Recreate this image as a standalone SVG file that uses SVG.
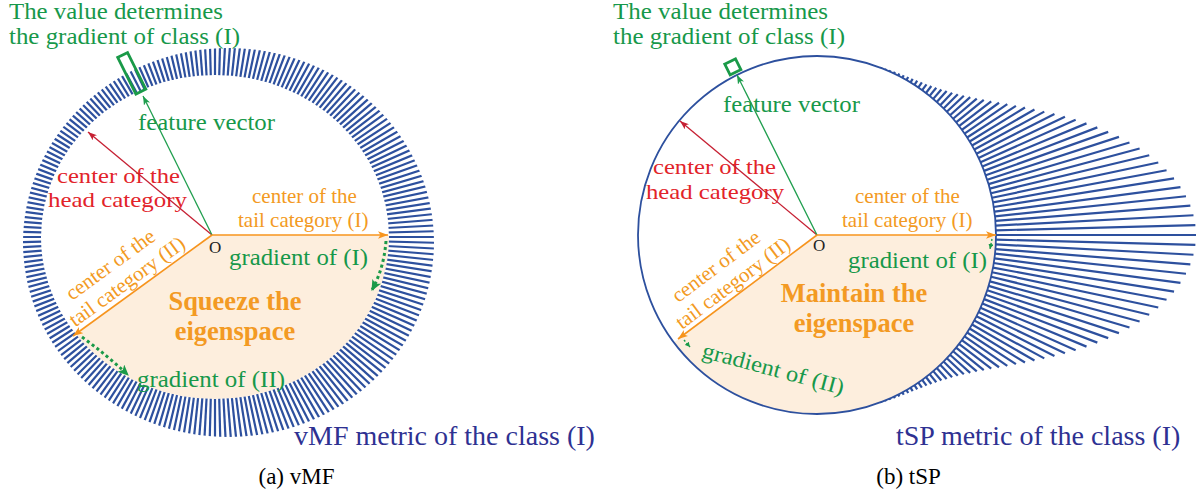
<svg xmlns="http://www.w3.org/2000/svg" width="1197" height="497" viewBox="0 0 1197 497">
<style>
text{font-family:"Liberation Serif","Times New Roman",serif}
.g{fill:#17984a;font-size:22.5px}
.r{fill:#e2232a;font-size:22px}
.o{fill:#f39a23;font-size:21px}
.b{fill:#f39a23;font-size:26.5px;font-weight:bold;text-anchor:middle}
.m{fill:#2e3192;font-size:28px}
.c{fill:#000;font-size:23px;text-anchor:middle}
.ol{fill:#222;font-size:17px}
.tk{stroke:#2d509e;stroke-width:2.2}
.ln{fill:none;stroke-width:1.3}
.lr{stroke:#c62033}
.lg{stroke:#1f9e4e}
.lo{stroke:#f7941d;stroke-width:1.6}
.dot{fill:none;stroke:#1a9a48;stroke-width:3;stroke-dasharray:3 3}
.dots{fill:none;stroke:#1a9a48;stroke-width:1.4;stroke-dasharray:2 2}
.peach{fill:#fdeedd}
</style>
<defs>
<marker id="aR" markerUnits="userSpaceOnUse" markerWidth="9" markerHeight="7" refX="8" refY="3" orient="auto" viewBox="0 0 8 6"><path d="M0,0 L8,3 L0,6 L2,3Z" fill="#c62033"/></marker>
<marker id="aG" markerUnits="userSpaceOnUse" markerWidth="9" markerHeight="7" refX="8" refY="3" orient="auto" viewBox="0 0 8 6"><path d="M0,0 L8,3 L0,6 L2,3Z" fill="#1f9e4e"/></marker>
<marker id="aO" markerUnits="userSpaceOnUse" markerWidth="10" markerHeight="8" refX="8" refY="3" orient="auto" viewBox="0 0 8 6"><path d="M0,0 L8,3 L0,6 L2,3Z" fill="#f7941d"/></marker>
<marker id="aD" markerUnits="userSpaceOnUse" markerWidth="11" markerHeight="10" refX="9" refY="4.5" orient="auto" viewBox="0 0 10 9"><path d="M0,0 L10,4.5 L0,9 L2.5,4.5Z" fill="#1a9a48"/></marker>
<marker id="aDs" markerUnits="userSpaceOnUse" markerWidth="5" markerHeight="5" refX="4" refY="2" orient="auto" viewBox="0 0 4 4"><path d="M0,0 L4,2 L0,4Z" fill="#1a9a48"/></marker>
<clipPath id="ringL"><path clip-rule="evenodd" d="M23,242.5 a205.5,194.5 0 1,0 411,0 a205.5,194.5 0 1,0 -411,0 Z M41,237 a174,162 0 1,0 348,0 a174,162 0 1,0 -348,0 Z"/></clipPath>
<clipPath id="inL"><ellipse cx="215" cy="237" rx="174" ry="162"/></clipPath>
<clipPath id="inR"><circle cx="817" cy="235" r="179"/></clipPath>
<line id="tk" x1="100" y1="0" x2="280" y2="0" class="tk"/>
<g id="tk15">
<use href="#tk"/><use href="#tk" transform="rotate(1.5)"/><use href="#tk" transform="rotate(3)"/><use href="#tk" transform="rotate(4.5)"/><use href="#tk" transform="rotate(6)"/><use href="#tk" transform="rotate(7.5)"/><use href="#tk" transform="rotate(9)"/><use href="#tk" transform="rotate(10.5)"/><use href="#tk" transform="rotate(12)"/><use href="#tk" transform="rotate(13.5)"/><use href="#tk" transform="rotate(15)"/><use href="#tk" transform="rotate(16.5)"/><use href="#tk" transform="rotate(18)"/><use href="#tk" transform="rotate(19.5)"/><use href="#tk" transform="rotate(21)"/>
</g>
<line id="u" x1="0" y1="0" x2="1" y2="0" class="tk"/>
<g id="halfR">
<use href="#u" transform="rotate(0)translate(179)scale(200,1)"/>
<use href="#u" transform="rotate(1.5)translate(179)scale(199.5,1)"/>
<use href="#u" transform="rotate(3)translate(179)scale(198,1)"/>
<use href="#u" transform="rotate(4.5)translate(179)scale(195.5,1)"/>
<use href="#u" transform="rotate(6)translate(179)scale(192,1)"/>
<use href="#u" transform="rotate(7.5)translate(179)scale(187.6,1)"/>
<use href="#u" transform="rotate(9)translate(179)scale(182.5,1)"/>
<use href="#u" transform="rotate(10.5)translate(179)scale(176.5,1)"/>
<use href="#u" transform="rotate(12)translate(179)scale(169.9,1)"/>
<use href="#u" transform="rotate(13.5)translate(179)scale(162.7,1)"/>
<use href="#u" transform="rotate(15)translate(179)scale(155,1)"/>
<use href="#u" transform="rotate(16.5)translate(179)scale(146.9,1)"/>
<use href="#u" transform="rotate(18)translate(179)scale(138.5,1)"/>
<use href="#u" transform="rotate(19.5)translate(179)scale(129.9,1)"/>
<use href="#u" transform="rotate(21)translate(179)scale(121.3,1)"/>
<use href="#u" transform="rotate(22.5)translate(179)scale(112.7,1)"/>
<use href="#u" transform="rotate(24)translate(179)scale(104.1,1)"/>
<use href="#u" transform="rotate(25.5)translate(179)scale(95.7,1)"/>
<use href="#u" transform="rotate(27)translate(179)scale(87.5,1)"/>
<use href="#u" transform="rotate(28.5)translate(179)scale(79.6,1)"/>
<use href="#u" transform="rotate(30)translate(179)scale(72.1,1)"/>
<use href="#u" transform="rotate(31.5)translate(179)scale(64.9,1)"/>
<use href="#u" transform="rotate(33)translate(179)scale(58.2,1)"/>
<use href="#u" transform="rotate(34.5)translate(179)scale(51.9,1)"/>
<use href="#u" transform="rotate(36)translate(179)scale(46,1)"/>
<use href="#u" transform="rotate(37.5)translate(179)scale(40.6,1)"/>
<use href="#u" transform="rotate(39)translate(179)scale(35.6,1)"/>
<use href="#u" transform="rotate(40.5)translate(179)scale(31.1,1)"/>
<use href="#u" transform="rotate(42)translate(179)scale(27.1,1)"/>
<use href="#u" transform="rotate(43.5)translate(179)scale(23.4,1)"/>
<use href="#u" transform="rotate(45)translate(179)scale(20.1,1)"/>
<use href="#u" transform="rotate(46.5)translate(179)scale(17.2,1)"/>
<use href="#u" transform="rotate(48)translate(179)scale(14.7,1)"/>
<use href="#u" transform="rotate(49.5)translate(179)scale(12.4,1)"/>
<use href="#u" transform="rotate(51)translate(179)scale(10.5,1)"/>
<use href="#u" transform="rotate(52.5)translate(179)scale(8.8,1)"/>
<use href="#u" transform="rotate(54)translate(179)scale(7.3,1)"/>
<use href="#u" transform="rotate(55.5)translate(179)scale(6.1,1)"/>
<use href="#u" transform="rotate(57)translate(179)scale(5,1)"/>
<use href="#u" transform="rotate(58.5)translate(179)scale(4.1,1)"/>
<use href="#u" transform="rotate(60)translate(179)scale(3.4,1)"/>
<use href="#u" transform="rotate(61.5)translate(179)scale(2.7,1)"/>
<use href="#u" transform="rotate(63)translate(179)scale(2.2,1)"/>
<use href="#u" transform="rotate(64.5)translate(179)scale(1.8,1)"/>
<use href="#u" transform="rotate(66)translate(179)scale(1.4,1)"/>
<use href="#u" transform="rotate(67.5)translate(179)scale(1.1,1)"/>
<use href="#u" transform="rotate(69)translate(179)scale(0.9,1)"/>
</g>
</defs>

<g id="vmf-panel">
<g id="vmf-eigenspace"><polygon class="peach" points="212,235 450,235 450,470 -111,470" clip-path="url(#inL)"/></g>
<g id="vmf-ring" clip-path="url(#ringL)"><g transform="translate(215,237)">
<use href="#tk15"/><use href="#tk15" transform="rotate(22.5)"/><use href="#tk15" transform="rotate(45)"/><use href="#tk15" transform="rotate(67.5)"/><use href="#tk15" transform="rotate(90)"/><use href="#tk15" transform="rotate(112.5)"/><use href="#tk15" transform="rotate(135)"/><use href="#tk15" transform="rotate(157.5)"/><use href="#tk15" transform="rotate(180)"/><use href="#tk15" transform="rotate(202.5)"/><use href="#tk15" transform="rotate(225)"/><use href="#tk15" transform="rotate(247.5)"/><use href="#tk15" transform="rotate(270)"/><use href="#tk15" transform="rotate(292.5)"/><use href="#tk15" transform="rotate(315)"/><use href="#tk15" transform="rotate(337.5)"/>
</g></g>
<g id="vmf-marker"><rect x="160" y="-5.5" width="41" height="11" transform="translate(212,235) rotate(-116.4)" fill="none" stroke="#1a9a48" stroke-width="2.8"/></g>
<g id="vmf-labels">
<text class="g" x="9" y="18.5" textLength="214" lengthAdjust="spacingAndGlyphs">The value determines</text>
<text class="g" x="9" y="43.5" textLength="231" lengthAdjust="spacingAndGlyphs">the gradient of class (I)</text>
<text class="g" x="138" y="130" textLength="137" lengthAdjust="spacingAndGlyphs">feature vector</text>
<text class="r" x="57" y="182.5" textLength="123" lengthAdjust="spacingAndGlyphs">center of the</text>
<text class="r" x="48" y="207" textLength="139" lengthAdjust="spacingAndGlyphs">head category</text>
<text class="o" x="252" y="203">center of the</text>
<text class="o" x="238" y="226.5">tail category (I)</text>
<text class="ol" x="209" y="253">O</text>
<text class="g" x="229" y="265" textLength="139" lengthAdjust="spacingAndGlyphs">gradient of (I)</text>
<g transform="translate(212,235) rotate(-36)"><text class="o" x="-152" y="-29">center of the</text><text class="o" x="-165" y="-5.5">tail category (II)</text></g>
<text class="b" x="235" y="310">Squeeze the</text>
<text class="b" x="235" y="339.5">eigenspace</text>
<text class="g" x="137" y="387" textLength="148" lengthAdjust="spacingAndGlyphs">gradient of (II)</text>
<text class="m" x="294" y="445">vMF metric of the class (I)</text>
<text class="c" x="296.5" y="484">(a) vMF</text>
</g>
</g>

<g id="tsp-panel">
<g id="tsp-eigenspace"><polygon class="peach" points="817,235 1050,235 1050,470 504,470" clip-path="url(#inR)"/></g>
<g id="tsp-ring">
<g transform="translate(817,235)"><use href="#halfR"/><use href="#halfR" transform="scale(1,-1)"/></g>
<circle cx="817" cy="235" r="179" fill="none" stroke="#2d509e" stroke-width="1.8"/>
</g>
<g id="tsp-marker"><rect x="182" y="-6" width="12" height="12" transform="translate(817,235) rotate(-116.6)" fill="none" stroke="#1a9a48" stroke-width="2.8"/></g>
<g id="tsp-labels">
<text class="g" x="613" y="18.5" textLength="215" lengthAdjust="spacingAndGlyphs">The value determines</text>
<text class="g" x="613" y="43.5" textLength="232" lengthAdjust="spacingAndGlyphs">the gradient of class (I)</text>
<text class="g" x="723" y="112" textLength="137" lengthAdjust="spacingAndGlyphs">feature vector</text>
<text class="r" x="653" y="174" textLength="123" lengthAdjust="spacingAndGlyphs">center of the</text>
<text class="r" x="646" y="198.5" textLength="138" lengthAdjust="spacingAndGlyphs">head category</text>
<text class="o" x="855" y="203">center of the</text>
<text class="o" x="842" y="226.5">tail category (I)</text>
<text class="ol" x="813" y="251">O</text>
<text class="g" x="848" y="268" textLength="139" lengthAdjust="spacingAndGlyphs">gradient of (I)</text>
<g transform="translate(817,235) rotate(-37)"><text class="o" x="-152" y="-29">center of the</text><text class="o" x="-165" y="-5.5">tail category (II)</text></g>
<text class="b" x="854" y="302">Maintain the</text>
<text class="b" x="854" y="332">eigenspace</text>
<text class="g" transform="translate(701,357) rotate(15)" textLength="146" lengthAdjust="spacingAndGlyphs">gradient of (II)</text>
<text class="m" x="896" y="445">tSP metric of the class (I)</text>
<text class="c" x="908.5" y="484">(b) tSP</text>
</g>
</g>

<g id="connectors">
<path class="ln lr" d="M212,235 L88,132" marker-end="url(#aR)"/>
<path class="ln lg" d="M212,235 L143,96" marker-end="url(#aG)"/>
<path class="ln lo" d="M212,235 L388,235" marker-end="url(#aO)"/>
<path class="ln lo" d="M212,235 L73,336" marker-end="url(#aO)"/>
<path class="dot" d="M386,241 Q384,268 372,290" marker-end="url(#aD)"/>
<path class="dot" d="M82,337 Q108,356 128,375" marker-end="url(#aD)"/>
<path class="ln lr" d="M817,235 L680,121" marker-end="url(#aR)"/>
<path class="ln lg" d="M817,235 L737,75" marker-end="url(#aG)"/>
<path class="ln lo" d="M817,235 L996,235" marker-end="url(#aO)"/>
<path class="ln lo" d="M817,235 L678,339" marker-end="url(#aO)"/>
<path class="dots" d="M992,239 L990,249" marker-end="url(#aDs)"/>
<path class="dots" d="M684,340 L690,347" marker-end="url(#aDs)"/>
</g>
</svg>
